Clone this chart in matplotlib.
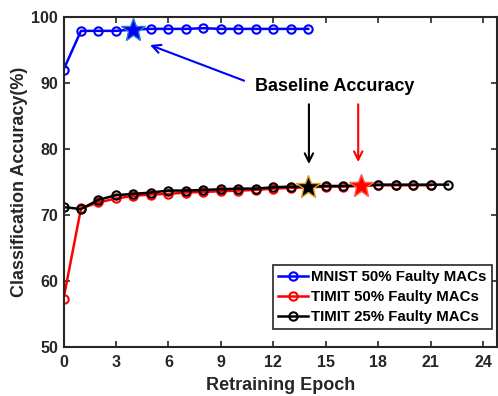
import matplotlib
matplotlib.use("Agg")
import matplotlib.pyplot as plt

plt.rcParams['font.family'] = ['Liberation Sans', 'DejaVu Sans']
plt.rcParams['font.weight'] = 'bold'

epochs_mnist = list(range(0, 15))
mnist = [92.0, 97.9, 97.9, 97.9, 98.1, 98.2, 98.2, 98.2, 98.3, 98.2, 98.2, 98.2, 98.2, 98.2, 98.2]

epochs_t50 = list(range(0, 22))
timit50 = [57.3, 71.0, 71.9, 72.5, 72.9, 73.1, 73.2, 73.4, 73.5, 73.6, 73.7, 73.8,
           74.0, 74.1, 74.2, 74.3, 74.3, 74.4, 74.5, 74.5, 74.5, 74.5]

epochs_t25 = list(range(0, 23))
timit25 = [71.2, 70.9, 72.3, 73.0, 73.2, 73.4, 73.7, 73.7, 73.8, 73.9, 74.0, 74.0,
           74.2, 74.3, 74.3, 74.4, 74.4, 74.5, 74.6, 74.6, 74.6, 74.6, 74.6]

baseline_epochs = [4, 17, 14]
baseline_acc = [98.1, 74.4, 74.3]

labels = ["MNIST 50% Faulty MACs", "TIMIT 50% Faulty MACs", "TIMIT 25% Faulty MACs"]
xticks = [0, 3, 6, 9, 12, 15, 18, 21, 24]
yticks = [50, 60, 70, 80, 90, 100]

fig = plt.figure(figsize=(4.98, 3.96), dpi=100)
ax = fig.add_axes([63.5 / 498, 1 - 347 / 396, (497 - 63.5) / 498, (347 - 17) / 396])

mk = dict(marker='o', markersize=6, fillstyle='none', markeredgewidth=1.5, linewidth=1.8)
ax.plot(epochs_mnist, mnist, color='#0000ff', label=labels[0], **mk)
ax.plot(epochs_t50, timit50, color='#ff0000', label=labels[1], **mk)
ax.plot(epochs_t25, timit25, color='#000000', label=labels[2], **mk)

ax.plot(baseline_epochs[0], baseline_acc[0], marker='*', markersize=18,
        color='#0000ff', markeredgecolor='#2a7ad0', markeredgewidth=1, zorder=5)
ax.plot(baseline_epochs[1], baseline_acc[1], marker='*', markersize=18,
        color='#ff0000', markeredgecolor='#ff6040', markeredgewidth=1, zorder=5)
ax.plot(baseline_epochs[2], baseline_acc[2], marker='*', markersize=18,
        color='#000000', markeredgecolor='#e0a020', markeredgewidth=1, zorder=5)

ax.text(15.5, 89.4, "Baseline Accuracy", fontsize=13, fontweight='bold',
        ha='center', va='center')
ap = dict(arrowstyle='->,head_length=0.6,head_width=0.3', lw=1.5)
ax.annotate("", xy=(4.8, 95.9), xytext=(10.48, 90.2),
            arrowprops=dict(color='#0000ff', **ap))
ax.annotate("", xy=(14.04, 77.3), xytext=(14.04, 87.2),
            arrowprops=dict(color='#000000', **ap))
ax.annotate("", xy=(16.86, 77.6), xytext=(16.86, 87.2),
            arrowprops=dict(color='#ff0000', **ap))

ax.set_xlim(0, 24.8)
ax.set_ylim(50, 100)
ax.set_xticks(xticks)
ax.set_yticks(yticks)
ax.tick_params(direction='in', top=True, right=True, labelsize=11.5, length=4,
               width=1.2, colors='#262626')
ax.tick_params(axis='x', pad=6)
ax.tick_params(axis='y', pad=4)
for lab in ax.get_xticklabels() + ax.get_yticklabels():
    lab.set_fontweight('bold')
for s in ax.spines.values():
    s.set_linewidth(1.5)
    s.set_color('#262626')

ax.set_xlabel("Retraining Epoch", fontsize=13, fontweight='bold', color='#262626', labelpad=5)
ax.set_ylabel("Classification Accuracy(%)", fontsize=13, fontweight='bold', color='#262626', labelpad=2)

leg = ax.legend(loc='lower right', bbox_to_anchor=(0.988, 0.0545), borderaxespad=0,
                fontsize=10.8, handlelength=2.0, handletextpad=0.2,
                borderpad=0.35, labelspacing=0.38, fancybox=False, framealpha=1,
                edgecolor='#262626')
leg.get_frame().set_linewidth(1.2)
for t in leg.get_texts():
    t.set_fontweight('bold')

fig.savefig("out.png", dpi=100)
